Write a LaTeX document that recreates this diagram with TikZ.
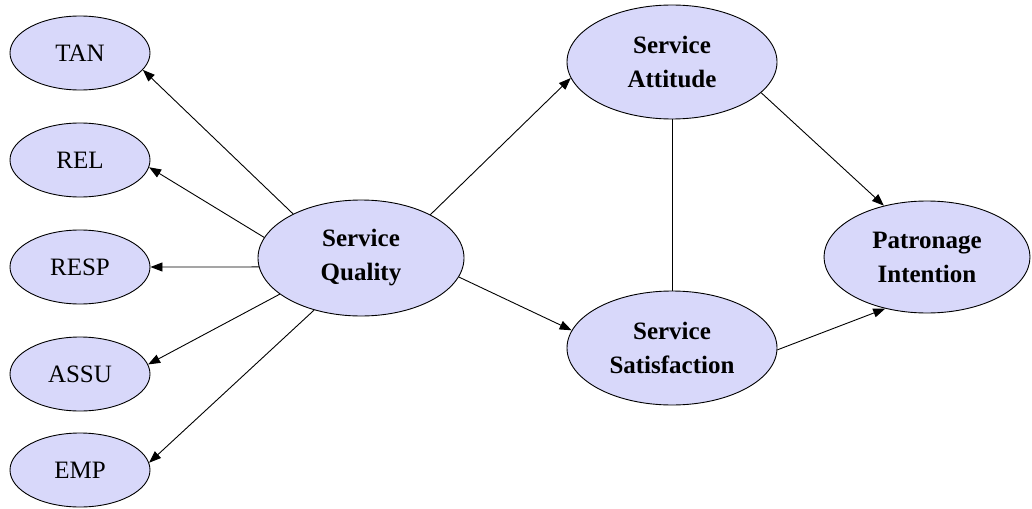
\documentclass[tikz,border=0pt]{standalone}
\usepackage{fontspec}
\setmainfont{Liberation Serif}
\usetikzlibrary{shapes.geometric,arrows.meta}
\definecolor{nodefill}{RGB}{216,216,250}
\begin{document}
\begin{tikzpicture}[x=1pt,y=-1pt,
  el/.style={ellipse,draw=black,line width=0.9pt,fill=nodefill,inner sep=0pt,
    font=\fontsize{25}{34}\selectfont,align=center},
  small/.style={el,minimum width=140pt,minimum height=74pt},
  big/.style={el,font=\fontsize{25}{34}\selectfont\bfseries},
  arr/.style={-{Triangle[length=12pt,width=9pt]},line width=0.9pt},
  plain/.style={line width=0.9pt}]
\useasboundingbox (0,0) rectangle (1032,508);
\node[small] (tan) at (80,53) {TAN};
\node[small] (rel) at (80,160) {REL};
\node[small] (resp) at (80,267) {RESP};
\node[small] (assu) at (80,374) {ASSU};
\node[small] (emp) at (80,470) {EMP};
\node[big,minimum width=206pt,minimum height=116pt] (sq) at (361,258) {Service\\Quality};
\node[big,minimum width=210pt,minimum height=114pt] (att) at (672,62) {Service\\Attitude};
\node[big,minimum width=210pt,minimum height=114pt] (sat) at (672,348) {Service\\Satisfaction};
\node[big,minimum width=206pt,minimum height=112pt] (pi) at (927,257) {Patronage\\Intention};
\draw[arr] (sq.147) -- (tan.-15);
\draw[arr] (sq.168) -- (rel.-6);
\draw[arr] (sq.185) -- (resp.0);
\draw[arr] (sq.204) -- (assu.8);
\draw[arr] (sq.228) -- (emp.6);
\draw[arr] (sq.32) -- (att.189);
\draw[arr] (sq.-11) -- (sat.170);
\draw[plain] (att.south) -- (sat.north);
\draw[arr] (att.-19) -- (pi.130);
\draw[arr] (sat.-1) -- (pi.231);
\end{tikzpicture}
\end{document}
